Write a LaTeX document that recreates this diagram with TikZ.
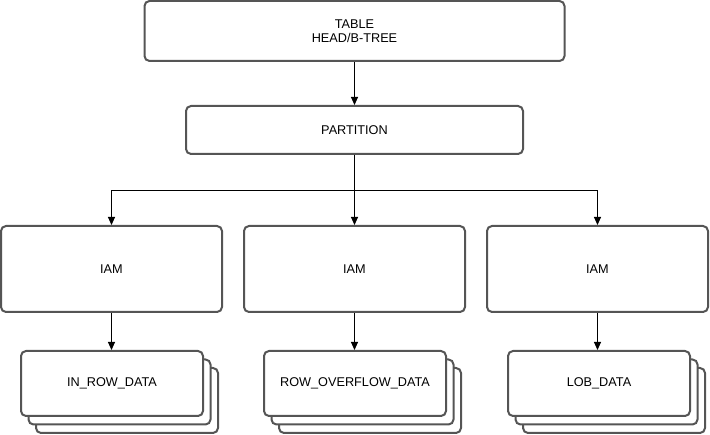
\documentclass[tikz,border=0pt]{standalone}
\usepackage{fontspec}
\setmainfont{Liberation Sans}
\usetikzlibrary{arrows.meta}
\definecolor{boxline}{RGB}{85,85,85}
\begin{document}
\begin{tikzpicture}[x=1pt,y=-1pt,
  box/.style={draw=boxline, line width=2pt, rounded corners=5pt, fill=white,
    inner sep=0pt, align=center, font=\fontsize{12.7}{14}\selectfont},
  arr/.style={draw=black, line width=1pt, -{Triangle[length=8pt,width=7pt]}}]
\useasboundingbox (0,0) rectangle (710,435);
\node[box, minimum width=420pt, minimum height=60pt] (table) at (354.5,31) {TABLE\\HEAD/B-TREE};
\node[box, minimum width=337pt, minimum height=48pt] (part) at (354.5,130) {PARTITION};
\node[box, minimum width=221pt, minimum height=86pt] (iam1) at (111.5,269) {IAM};
\node[box, minimum width=221pt, minimum height=86pt] (iam2) at (354.5,269) {IAM};
\node[box, minimum width=221pt, minimum height=86pt] (iam3) at (597.5,269) {IAM};
% stacks
\foreach \n/\cx in {a/112, b/355, c/599} {
  \node[box, minimum width=182pt, minimum height=65pt] (\n3) at (\cx+15,400.5) {};
  \node[box, minimum width=182pt, minimum height=65pt] (\n2) at (\cx+7.5,392) {};
}
\node[box, minimum width=182pt, minimum height=65pt] (d1) at (112,383.5) {IN\_ROW\_DATA};
\node[box, minimum width=182pt, minimum height=65pt] (d2) at (355,383.5) {ROW\_OVERFLOW\_DATA};
\node[box, minimum width=182pt, minimum height=65pt] (d3) at (599,383.5) {LOB\_DATA};
% connectors
\draw[arr] (table.south) -- (part.north);
\coordinate (br) at (354.5,190.5);
\draw[arr] (part.south) -- (br) -| (iam1.north);
\draw[arr] (part.south) -- (iam2.north);
\draw[arr] (br) -| (iam3.north);
\draw[arr] (iam1.south) -- (iam1.south |- d1.north);
\draw[arr] (iam2.south) -- (iam2.south |- d2.north);
\draw[arr] (iam3.south) -- (iam3.south |- d3.north);
\end{tikzpicture}
\end{document}
